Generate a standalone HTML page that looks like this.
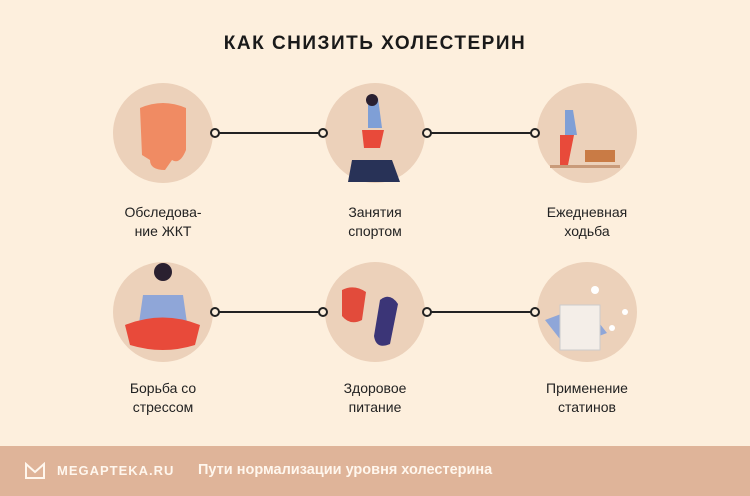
<!DOCTYPE html>
<html><head><meta charset="utf-8"><style>
body{margin:0;width:750px;height:496px;background:#fdefdd;position:relative;overflow:hidden;font-family:"Liberation Sans","DejaVu Sans",sans-serif;}
.t{position:absolute;top:33px;left:0;width:750px;text-align:center;font-weight:bold;font-size:19px;letter-spacing:1.5px;color:#1a1a1a}
.c{position:absolute;width:100px;height:100px;border-radius:50%;background:#ecd1ba}
.l{position:absolute;width:160px;text-align:center;font-size:14px;line-height:19px;color:#222}
.ft{position:absolute;left:0;top:446px;width:750px;height:50px;background:#dfb499;color:#fff7ee;font-weight:bold;font-size:13px}
</style></head><body>
<div class="t">КАК СНИЗИТЬ ХОЛЕСТЕРИН</div>
<div class="c" style="left:113px;top:83px"></div>
<div class="c" style="left:325px;top:83px"></div>
<div class="c" style="left:537px;top:83px"></div>
<div class="c" style="left:113px;top:262px"></div>
<div class="c" style="left:325px;top:262px"></div>
<div class="c" style="left:537px;top:262px"></div>
<svg width="750" height="446" style="position:absolute;left:0;top:0">
<g stroke="#222" stroke-width="2" fill="#fdefdd">
<line x1="215" y1="133" x2="323" y2="133"/><line x1="427" y1="133" x2="535" y2="133"/>
<line x1="215" y1="312" x2="323" y2="312"/><line x1="427" y1="312" x2="535" y2="312"/>
<circle cx="215" cy="133" r="4"/><circle cx="323" cy="133" r="4"/><circle cx="427" cy="133" r="4"/><circle cx="535" cy="133" r="4"/>
<circle cx="215" cy="312" r="4"/><circle cx="323" cy="312" r="4"/><circle cx="427" cy="312" r="4"/><circle cx="535" cy="312" r="4"/>
</g>
<path d="M140 108 Q163 98 186 108 L186 150 Q180 165 172 160 L165 170 Q150 170 150 160 L142 155 Z" fill="#f08b63"/>
<path d="M368 98 l10 0 l4 30 l-14 0z" fill="#7f9fd6"/><path d="M362 130 h22 l-4 18 h-16z" fill="#e84a3a"/><path d="M352 160 h40 l8 22 h-52z" fill="#283257"/><circle cx="372" cy="100" r="6" fill="#2a2030"/>
<path d="M565 110 l8 0 l4 25 l-12 0z" fill="#7f9fd6"/><path d="M560 135 h14 l-6 30 h-8z" fill="#e84a3a"/><path d="M585 150 h30 v12 h-30z" fill="#c97b45"/><path d="M550 165 h70 v3 h-70z" fill="#c99b7a"/>
<circle cx="163" cy="272" r="9" fill="#2a2030"/><path d="M143 295 h40 l5 35 h-50z" fill="#8fa6d8"/><path d="M125 325 Q163 310 200 325 L195 345 Q163 355 130 345z" fill="#e84a3a"/>
<path d="M342 290 q12 -6 24 2 l-4 28 q-12 6 -20 -4z" fill="#e24b3b"/><path d="M380 300 q10 -8 18 4 l-8 40 q-14 6 -16 -8z" fill="#3b3577"/>
<path d="M545 320 l40 -15 l22 28 l-40 15z" fill="#8fa6d8"/><path d="M560 305 h40 v45 h-40z" fill="#f4eee8" stroke="#ccc"/><circle cx="595" cy="290" r="4" fill="#fff"/><circle cx="612" cy="328" r="3" fill="#fff"/><circle cx="625" cy="312" r="3" fill="#fff"/>
</svg>
<div class="l" style="left:83px;top:203px">Обследова-<br>ние ЖКТ</div>
<div class="l" style="left:295px;top:203px">Занятия<br>спортом</div>
<div class="l" style="left:507px;top:203px">Ежедневная<br>ходьба</div>
<div class="l" style="left:83px;top:379px">Борьба со<br>стрессом</div>
<div class="l" style="left:295px;top:379px">Здоровое<br>питание</div>
<div class="l" style="left:507px;top:379px">Применение<br>статинов</div>
<div class="ft">
<svg width="22" height="18" style="position:absolute;left:24px;top:16px" fill="none" stroke="#fff7ee" stroke-width="2"><path d="M2 2 L11 10 L20 2 V16 H2 Z"/></svg>
<span style="position:absolute;left:57px;top:17px;letter-spacing:1px">MEGAPTEKA.RU</span>
<span style="position:absolute;left:198px;top:16px;font-size:14.5px">Пути нормализации уровня холестерина</span>
</div>
</body></html>
